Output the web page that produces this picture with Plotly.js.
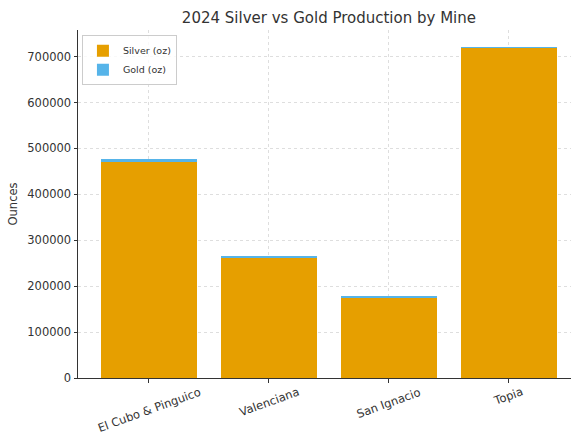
<!DOCTYPE html>
<html>
<head>
<meta charset="utf-8">
<script src="https://cdn.plot.ly/plotly-3.0.1.min.js"></script>
<style>html,body{margin:0;padding:0;background:#fff;}#chart{width:571px;height:434px;}</style>
</head>
<body>
<div id="chart"></div>
<script>
const mines = ["El Cubo & Pinguico", "Valenciana", "San Ignacio", "Topia"];
const silverOz = [471000, 262000, 175000, 718000];
const goldOz = [7000, 4000, 3000, 3000];
const yTicks = [0, 100000, 200000, 300000, 400000, 500000, 600000, 700000];

const font = "DejaVu Sans, sans-serif";
const traces = [
  {type: "bar", name: "Silver (oz)", x: mines, y: silverOz, width: 0.8,
   marker: {color: "#E69F00", line: {width: 0}}},
  {type: "bar", name: "Gold (oz)", x: mines, y: goldOz, width: 0.8,
   marker: {color: "#56B4E9", line: {width: 0}}}
];
const tickAnnotations = mines.map(m => ({
  x: m, xref: "x", y: 0, yref: "paper", yanchor: "top", xanchor: "center",
  yshift: -4, text: m, textangle: -20, showarrow: false,
  font: {family: font, size: 11.5, color: "#333"}
}));
const layout = {
  width: 571, height: 434,
  margin: {l: 78, r: 0, t: 30, b: 56},
  barmode: "stack",
  paper_bgcolor: "#fff", plot_bgcolor: "#fff",
  font: {family: font, color: "#333", size: 11},
  title: {text: "2024 Silver vs Gold Production by Mine", x: 0.509, xref: "paper", xanchor: "center",
          y: 0.958, yref: "container", yanchor: "middle", font: {family: font, size: 15, color: "#333"}},
  xaxis: {range: [-0.59, 3.52], showticklabels: false, showgrid: true, gridcolor: "rgba(0,0,0,0.13)", griddash: "dot",
          gridwidth: 1, layer: "above traces",
          ticks: "outside", ticklen: 3.5, tickcolor: "#333", showline: true, linecolor: "#333", linewidth: 1,
          zeroline: false},
  yaxis: {range: [0, 758000], tickvals: yTicks, ticktext: yTicks.map(String), showgrid: true,
          gridcolor: "rgba(0,0,0,0.13)", griddash: "dot", gridwidth: 1, layer: "above traces",
          ticks: "outside", ticklen: 3.5, tickcolor: "#333", showline: true, linecolor: "#333", linewidth: 1,
          zeroline: false, tickfont: {family: font, size: 11.5, color: "#333"},
          title: {text: "Ounces", font: {family: font, size: 11.5, color: "#333"}, standoff: 7}},
  annotations: tickAnnotations,
  legend: {x: 0.008, y: 0.985, xanchor: "left", yanchor: "top", traceorder: "normal",
           bgcolor: "rgba(255,255,255,0.8)", bordercolor: "#ccc", borderwidth: 1,
           font: {family: font, size: 9.5, color: "#333"}, itemwidth: 30, tracegroupgap: 0}
};
Plotly.newPlot("chart", traces, layout, {displayModeBar: false, staticPlot: true});
</script>
</body>
</html>
